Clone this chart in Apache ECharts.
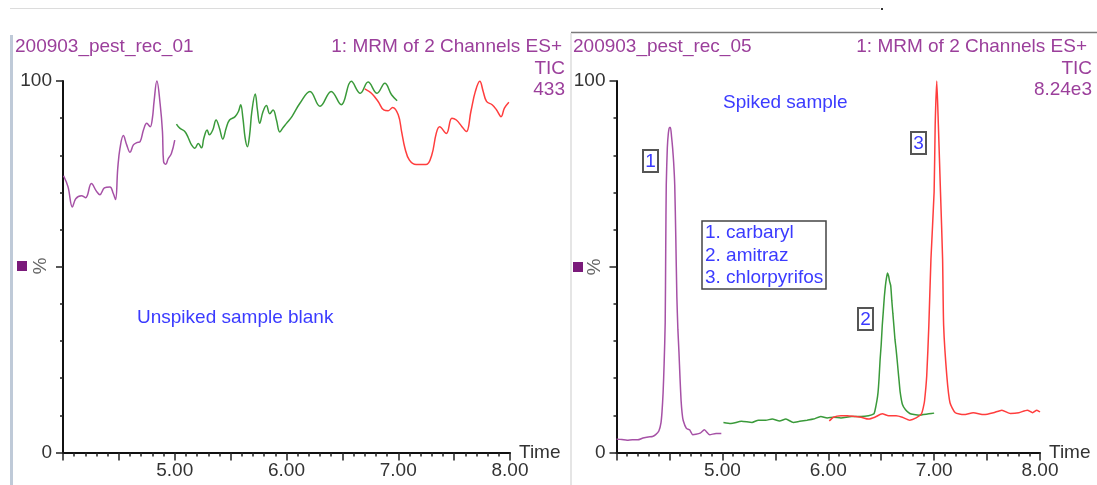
<!DOCTYPE html>
<html>
<head>
<meta charset="utf-8">
<script src="https://cdn.jsdelivr.net/npm/echarts@6/dist/echarts.min.js"></script>
<style>
html,body{margin:0;padding:0;background:#fff;}
#chart{width:1097px;height:485px;}
</style>
</head>
<body>
<div id="chart"></div>
<script>
// ---- Data ----
var xTickLabels = ['5.00', '6.00', '7.00', '8.00'];
var yTickLabels = ['0', '100'];

// Left panel: unspiked sample blank
var leftPurpleX = [4.005,4.045,4.084,4.114,4.165,4.203,4.254,4.30,4.33,4.37,4.42,4.45,4.47,4.49,4.51,4.54,4.57,4.60,4.63,4.66,4.69,4.72,4.75,4.78,4.80,4.815,4.84,4.87,4.89,4.90,4.92,4.94,4.97,5.00];
var leftPurpleY = [74.5,71.5,66.1,68.3,69.1,68.6,72.4,70.3,69.4,71.2,71.5,69.7,68.1,76.5,81.9,85.3,82.8,80.8,82.8,83.4,83.7,86.8,88.6,87.7,90.0,94.5,100,93.6,86.4,78.3,77.6,79.0,80.5,84.1];

var leftGreenX = [5.015,5.045,5.09,5.12,5.15,5.18,5.21,5.24,5.26,5.29,5.31,5.34,5.37,5.40,5.43,5.46,5.49,5.54,5.57,5.59,5.61,5.63,5.65,5.67,5.69,5.72,5.74,5.76,5.79,5.82,5.85,5.88,5.91,5.94,5.97,6.00,6.05,6.12,6.21,6.30,6.40,6.49,6.58,6.66,6.73,6.81,6.88,6.94,6.99];
var leftGreenY = [88.4,87.3,86.4,84.8,82.8,81.9,83.2,82.0,84.6,86.8,85.5,86.8,89.5,87.3,84.4,87.3,89.5,90.4,91.8,93.6,90.0,84.6,82.3,85.5,91.8,96.5,92.2,88.6,91.8,93.4,91.2,92.2,89.5,86.3,87.5,88.6,90.5,94.0,97.2,93.2,97.2,93.6,99.9,96.7,99.7,96.7,99.4,96.3,94.7];

var leftRedX = [6.70,6.76,6.82,6.87,6.91,6.95,7.00,7.03,7.06,7.10,7.16,7.25,7.30,7.34,7.37,7.43,7.48,7.52,7.57,7.61,7.65,7.69,7.73,7.76,7.79,7.84,7.88,7.92,7.95,7.99];
var leftRedY = [97.9,96.7,94.5,92.2,92.0,92.9,90.9,86.4,81.9,78.7,77.5,77.5,80.1,85.9,87.7,85.9,90.0,89.5,87.7,86.4,91.8,97.2,99.9,97.2,94.5,93.6,92.2,90.4,92.7,94.3];

// Right panel: spiked sample
var rightPurpleX = [4.00,4.05,4.10,4.15,4.20,4.25,4.30,4.34,4.37,4.40,4.42,4.43,4.44,4.45,4.46,4.465,4.47,4.48,4.49,4.50,4.51,4.52,4.53,4.54,4.55,4.56,4.57,4.58,4.59,4.60,4.61,4.62,4.63,4.66,4.69,4.72,4.75,4.79,4.83,4.88,4.94,4.99];
var rightPurpleY = [3.6,3.5,3.3,3.4,3.4,3.9,4.2,4.3,4.8,5.8,8,11,16,24,35,55,72,82,86,87.5,87.5,85,82,78,72,58,42,33,27,20,14,10.5,8.6,6.5,6.1,4.8,4.9,5.2,6.1,4.8,5.1,5.1];

var rightGreenX = [5.01,5.08,5.18,5.28,5.34,5.41,5.47,5.54,5.60,5.67,5.73,5.80,5.86,5.93,5.99,6.05,6.12,6.22,6.31,6.38,6.43,6.44,6.46,6.47,6.48,6.49,6.50,6.51,6.52,6.53,6.54,6.55,6.56,6.57,6.58,6.59,6.60,6.61,6.62,6.63,6.64,6.65,6.66,6.67,6.68,6.70,6.73,6.77,6.81,6.86,6.90,6.95,7.00];
var rightGreenY = [8.1,7.8,8.4,8.1,8.7,8.7,9.0,8.5,9.0,8.1,8.4,8.7,9.0,9.7,9.3,9.5,9.3,9.7,9.7,9.9,10.4,11.1,14,16.1,20,25.1,29,34.1,38,42,44.9,47,48.3,47.5,46,44.9,41,37.5,34.1,30.5,28,25.1,22,19,16.1,13,11.5,10.5,10.2,10.0,10.2,10.4,10.6];

var rightRedX = [6.01,6.05,6.12,6.18,6.25,6.31,6.38,6.44,6.51,6.57,6.64,6.70,6.77,6.83,6.88,6.90,6.91,6.93,6.95,6.97,7.00,7.01,7.025,7.04,7.06,7.08,7.09,7.12,7.15,7.20,7.28,7.37,7.47,7.56,7.64,7.72,7.80,7.88,7.93,7.97,8.00];
var rightRedY = [8.5,9.5,9.9,9.9,9.7,9.5,9.0,9.5,10.4,9.9,9.9,9.5,8.7,9.3,10.4,12.4,14,20.6,34.1,52.1,70.2,88.2,100,88.2,70.2,52.1,34.1,20.6,13.4,10.7,10.2,10.7,10.2,10.7,11.4,10.5,10.7,11.4,10.7,11.4,10.9];

var compoundNames = ['1. carbaryl', '2. amitraz', '3. chlorpyrifos'];

function zip(xs, ys) { return xs.map(function (x, i) { return [x, ys[i]]; }); }

var FONT = '"Liberation Sans", Arial, sans-serif';
var FS = 19;
var PURPLE_TXT = '#9b3f9b';
var BLUE = '#3b3bff';
var C_PURPLE = '#a651a6';
var C_GREEN = '#3a9a3a';
var C_RED = '#ff3d3d';

function xAxisCfg(idx) {
  return {
    type: 'value', gridIndex: idx, min: 4, max: 8, interval: 0.5,
    axisLine: { show: true, onZero: false, lineStyle: { color: '#111', width: 2 } },
    axisTick: { show: true, length: 8, lineStyle: { color: '#222', width: 1.5 } },
    minorTick: { show: true, splitNumber: 5, length: 4, lineStyle: { color: '#222', width: 1.5 } },
    splitLine: { show: false },
    axisLabel: {
      fontSize: FS, color: '#333', margin: 9, fontFamily: FONT,
      formatter: function (v) {
        var s = Number(v).toFixed(2);
        return xTickLabels.indexOf(s) >= 0 ? s : '';
      }
    },
    name: 'Time', nameLocation: 'end', nameGap: 9, nameMoveOverlap: false,
    nameTextStyle: { fontSize: FS, color: '#333', fontFamily: FONT }
  };
}
function yAxisCfg(idx) {
  return {
    type: 'value', gridIndex: idx, min: 0, max: 100, interval: 50,
    axisLine: { show: true, lineStyle: { color: '#111', width: 2 } },
    axisTick: { show: true, length: 7, lineStyle: { color: '#222', width: 1.5 } },
    minorTick: { show: true, splitNumber: 5, length: 3, lineStyle: { color: '#222', width: 1.5 } },
    splitLine: { show: false },
    axisLabel: {
      fontSize: FS, color: '#333', margin: 11, fontFamily: FONT,
      formatter: function (v) {
        var s = String(v);
        return yTickLabels.indexOf(s) >= 0 ? s : '';
      }
    }
  };
}
function lineSeries(xi, data, color, smooth) {
  return {
    type: 'line', xAxisIndex: xi, yAxisIndex: xi, data: data,
    showSymbol: false, smooth: smooth, clip: false,
    lineStyle: { color: color, width: 1.5 }, animation: false
  };
}
function txt(text, x, y, color, align, extra) {
  var o = {
    type: 'text', silent: true,
    style: {
      text: text, x: x, y: y, fill: color, font: FS + 'px ' + FONT,
      textAlign: align || 'left', align: align || 'left',
      textVerticalAlign: 'middle', verticalAlign: 'middle'
    }
  };
  if (extra) { for (var k in extra) o[k] = extra[k]; }
  return o;
}
function numBox(label, x, y) {
  return [
    { type: 'rect', shape: { x: x, y: y, width: 15, height: 22 },
      style: { fill: '#fff', stroke: '#555', lineWidth: 2 } },
    txt(label, x + 7.5, y + 11.5, BLUE, 'center')
  ];
}

var graphics = [
  // frame lines
  { type: 'line', shape: { x1: 10, y1: 8.5, x2: 880, y2: 8.5 }, style: { stroke: '#dcdcdc', lineWidth: 1 } },
  { type: 'rect', shape: { x: 881, y: 8, width: 2, height: 2 }, style: { fill: '#333' } },
  { type: 'rect', shape: { x: 10, y: 35, width: 3, height: 450 }, style: { fill: '#bfcad8' } },
  { type: 'line', shape: { x1: 571, y1: 32.5, x2: 1097, y2: 32.5 }, style: { stroke: '#7a7a7a', lineWidth: 1.5 } },
  { type: 'line', shape: { x1: 571, y1: 33, x2: 571, y2: 485 }, style: { stroke: '#dddddd', lineWidth: 1.5 } },
  // left panel headers
  txt('200903_pest_rec_01', 15, 47, PURPLE_TXT, 'left'),
  txt('1: MRM of 2 Channels ES+', 562, 47, PURPLE_TXT, 'right'),
  txt('TIC', 565, 69, PURPLE_TXT, 'right'),
  txt('433', 565, 90, PURPLE_TXT, 'right'),
  // right panel headers
  txt('200903_pest_rec_05', 573, 47, PURPLE_TXT, 'left'),
  txt('1: MRM of 2 Channels ES+', 1087, 47, PURPLE_TXT, 'right'),
  txt('TIC', 1092, 69, PURPLE_TXT, 'right'),
  txt('8.24e3', 1092, 90, PURPLE_TXT, 'right'),
  // % markers
  { type: 'rect', shape: { x: 17, y: 261, width: 10, height: 10 }, style: { fill: '#7a1a7a' } },
  txt('%', 38, 266, '#666', 'center', { rotation: -Math.PI / 2 }),
  { type: 'rect', shape: { x: 573, y: 262, width: 10, height: 10 }, style: { fill: '#7a1a7a' } },
  txt('%', 592, 267, '#666', 'center', { rotation: -Math.PI / 2 }),
  // annotations
  txt('Unspiked sample blank', 137, 318, BLUE, 'left'),
  txt('Spiked sample', 723, 103, BLUE, 'left'),
  { type: 'rect', shape: { x: 702, y: 221, width: 124, height: 68 },
    style: { fill: '#fff', stroke: '#444', lineWidth: 1.5 } },
  txt(compoundNames[0], 705, 233, BLUE, 'left'),
  txt(compoundNames[1], 705, 256, BLUE, 'left'),
  txt(compoundNames[2], 705, 278, BLUE, 'left')
].concat(numBox('1', 643, 150), numBox('2', 858, 308), numBox('3', 911, 132));

// rotated % texts: rotate about their own position
graphics.forEach(function (g) {
  if (g.rotation) {
    g.x = g.style.x; g.y = g.style.y;
    g.style.x = 0; g.style.y = 0;
  }
});

var option = {
  backgroundColor: '#fff',
  animation: false,
  textStyle: { fontFamily: FONT },
  grid: [
    { left: 63, top: 81, width: 447, height: 371.5, containLabel: false, outerBoundsMode: 'none' },
    { left: 616.5, top: 81, width: 423.5, height: 371.5, containLabel: false, outerBoundsMode: 'none' }
  ],
  xAxis: [xAxisCfg(0), xAxisCfg(1)],
  yAxis: [yAxisCfg(0), yAxisCfg(1)],
  series: [
    lineSeries(0, zip(leftPurpleX, leftPurpleY), C_PURPLE, 0.4),
    lineSeries(0, zip(leftGreenX, leftGreenY), C_GREEN, 0.4),
    lineSeries(0, zip(leftRedX, leftRedY), C_RED, 0.4),
    lineSeries(1, zip(rightPurpleX, rightPurpleY), C_PURPLE, 0.2),
    lineSeries(1, zip(rightGreenX, rightGreenY), C_GREEN, 0.2),
    lineSeries(1, zip(rightRedX, rightRedY), C_RED, 0.2)
  ],
  graphic: graphics
};

var chart = echarts.init(document.getElementById('chart'), null, { renderer: 'canvas' });
chart.setOption(option);
</script>
</body>
</html>
